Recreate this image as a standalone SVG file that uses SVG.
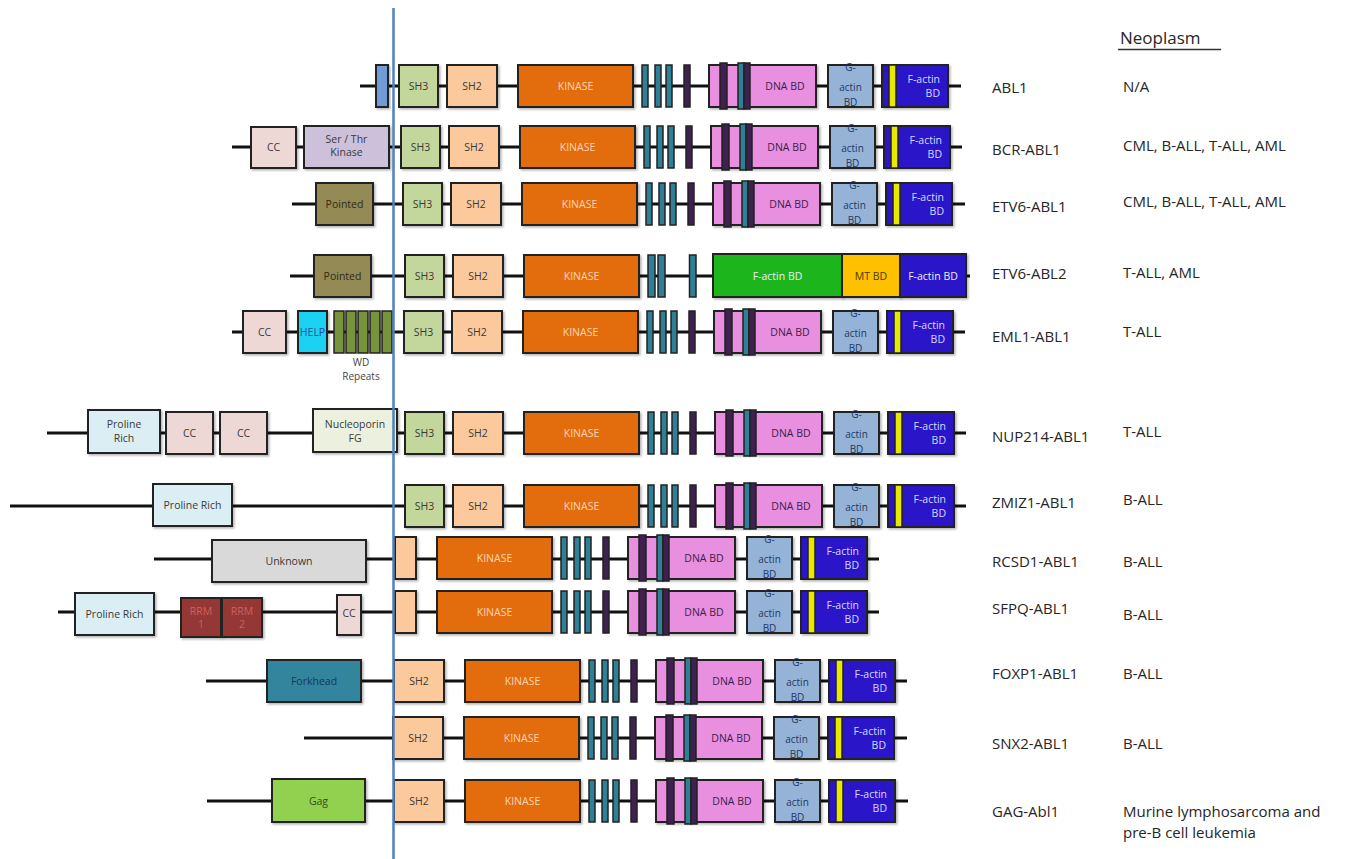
<svg xmlns="http://www.w3.org/2000/svg" width="1345" height="859" viewBox="0 0 1345 859">
<defs>
<filter id="sh" x="-10%" y="-10%" width="130%" height="130%"><feDropShadow dx="1.5" dy="1.5" stdDeviation="1" flood-color="#000" flood-opacity="0.3"/></filter>
</defs>
<style>
.bb{stroke:#111;stroke-width:3;fill:none}
.d{stroke:#222;stroke-width:2;filter:url(#sh)}
.b{stroke:#222;stroke-width:1.5}
.sh3{fill:#c3d69b}.sh2{fill:#fbc99b}.kin{fill:#e36c0a}.teal{fill:#2f7f97}.pur{fill:#3f2150}
.dna{fill:#e88fe0}.gact{fill:#95b3d7}.fact{fill:#2a17c8}.yel{fill:#e8e800}
.cc{fill:#eed8d6}.ser{fill:#ccc0da}.pointed{fill:#948a54}.help{fill:#1ad2f2}.wd{fill:#77933c}
.pro{fill:#dbeef4}.nup{fill:#ebf1de}.unk{fill:#d9d9d9}.rrm{fill:#953735}.fork{fill:#31859c}.gag{fill:#92d050}
.grn{fill:#1fb51f}.mt{fill:#ffc000}.abl{fill:#6f9bd4}
text{font-family:"Open Sans","Liberation Sans",sans-serif}
.t{font-size:10.5px;text-anchor:middle;fill:#3a3a3a}
.kt{fill:#fcd5b4}.dt{fill:#3c1d4a}.gt{fill:#1f3864;font-size:10px}.ft{fill:#d8d8ff;text-anchor:end}
.wt{fill:#eeeeff}.rt{fill:#cc6060}
.gene{font-size:15px;fill:#262626}
.neo{font-size:15px;fill:#262626}
</style>
<rect width="1345" height="859" fill="#fff"/>

<g id="connectors">
<line class="bb" x1="360" y1="86" x2="961" y2="86"/>
<line class="bb" x1="232" y1="147" x2="962" y2="147"/>
<line class="bb" x1="292" y1="204" x2="965" y2="204"/>
<line class="bb" x1="290" y1="276" x2="970" y2="276"/>
<line class="bb" x1="232" y1="332" x2="965" y2="332"/>
<line class="bb" x1="47" y1="433" x2="966" y2="433"/>
<line class="bb" x1="10" y1="506" x2="966" y2="506"/>
<line class="bb" x1="154" y1="559" x2="879" y2="559"/>
<line class="bb" x1="58" y1="612" x2="879" y2="612"/>
<line class="bb" x1="206" y1="681" x2="907" y2="681"/>
<line class="bb" x1="304" y1="738" x2="907" y2="738"/>
<line class="bb" x1="207" y1="801" x2="908" y2="801"/>
</g>

<!-- Row 1 ABL1 -->
<g id="abl1-n"><rect class="d abl" x="376" y="65" width="12" height="42"/></g>
<g id="abl1" transform="translate(518,86)">
<g id="abl1-sh3"><rect class="d sh3" x="-119" y="-21" width="39" height="42"/><text class="t" x="-99.5" y="4">SH3</text></g>
<g id="abl1-sh2"><rect class="d sh2" x="-71" y="-21" width="50" height="42"/><text class="t" x="-46" y="4">SH2</text></g>
<g id="abl1-kinase"><rect class="d kin" x="0" y="-21" width="115" height="42"/><text class="t kt" x="57.5" y="4">KINASE</text></g>
<g id="abl1-motifs"><rect class="b teal" x="124" y="-21" width="6" height="42"/><rect class="b teal" x="137" y="-21" width="6" height="42"/><rect class="b teal" x="148" y="-21" width="6" height="42"/><rect class="b pur" x="166" y="-21" width="6" height="42"/></g>
<g id="abl1-dna"><rect class="d dna" x="191" y="-21" width="107" height="42"/><rect class="b pur" x="202" y="-23" width="7" height="46"/><rect class="b teal" x="220" y="-23" width="6" height="46"/><rect class="b pur" x="226" y="-23" width="6" height="46"/><text class="t dt" x="267" y="4">DNA BD</text></g>
<g id="abl1-gactin"><rect class="d gact" x="310" y="-21" width="45" height="42"/><text class="t gt"><tspan x="332.5" y="-15">G-</tspan><tspan x="332.5" y="4.5">actin</tspan><tspan x="332.5" y="19.5">BD</tspan></text></g>
<g id="abl1-factin"><rect class="d fact" x="364" y="-21" width="66" height="42"/><rect class="b yel" x="371" y="-21" width="7" height="42"/><text class="t ft"><tspan x="422" y="-3">F-actin</tspan><tspan x="422" y="11">BD</tspan></text></g>
</g>

<!-- Row 2 BCR-ABL1 -->
<g id="bcr-cc"><rect class="d cc" x="251" y="127" width="45" height="41"/><text class="t" x="273.5" y="151">CC</text></g>
<g id="bcr-serthr"><rect class="d ser" x="304" y="126" width="85" height="42"/><text class="t"><tspan x="346.5" y="143">Ser / Thr</tspan><tspan x="346.5" y="156">Kinase</tspan></text></g>
<g id="bcr" transform="translate(520,147)">
<g id="bcr-sh3"><rect class="d sh3" x="-119" y="-21" width="39" height="42"/><text class="t" x="-99.5" y="4">SH3</text></g>
<g id="bcr-sh2"><rect class="d sh2" x="-71" y="-21" width="50" height="42"/><text class="t" x="-46" y="4">SH2</text></g>
<g id="bcr-kinase"><rect class="d kin" x="0" y="-21" width="115" height="42"/><text class="t kt" x="57.5" y="4">KINASE</text></g>
<g id="bcr-motifs"><rect class="b teal" x="124" y="-21" width="6" height="42"/><rect class="b teal" x="137" y="-21" width="6" height="42"/><rect class="b teal" x="148" y="-21" width="6" height="42"/><rect class="b pur" x="166" y="-21" width="6" height="42"/></g>
<g id="bcr-dna"><rect class="d dna" x="191" y="-21" width="107" height="42"/><rect class="b pur" x="202" y="-23" width="7" height="46"/><rect class="b teal" x="220" y="-23" width="6" height="46"/><rect class="b pur" x="226" y="-23" width="6" height="46"/><text class="t dt" x="267" y="4">DNA BD</text></g>
<g id="bcr-gactin"><rect class="d gact" x="310" y="-21" width="45" height="42"/><text class="t gt"><tspan x="332.5" y="-15">G-</tspan><tspan x="332.5" y="4.5">actin</tspan><tspan x="332.5" y="19.5">BD</tspan></text></g>
<g id="bcr-factin"><rect class="d fact" x="364" y="-21" width="66" height="42"/><rect class="b yel" x="371" y="-21" width="7" height="42"/><text class="t ft"><tspan x="422" y="-3">F-actin</tspan><tspan x="422" y="11">BD</tspan></text></g>
</g>

<!-- Row 3 ETV6-ABL1 -->
<g id="etv6a-pointed"><rect class="d pointed" x="316" y="183" width="57" height="42"/><text class="t" x="344.5" y="208" style="fill:#2e2a14">Pointed</text></g>
<g id="etv6a" transform="translate(522,204)">
<g id="etv6a-sh3"><rect class="d sh3" x="-119" y="-21" width="39" height="42"/><text class="t" x="-99.5" y="4">SH3</text></g>
<g id="etv6a-sh2"><rect class="d sh2" x="-71" y="-21" width="50" height="42"/><text class="t" x="-46" y="4">SH2</text></g>
<g id="etv6a-kinase"><rect class="d kin" x="0" y="-21" width="115" height="42"/><text class="t kt" x="57.5" y="4">KINASE</text></g>
<g id="etv6a-motifs"><rect class="b teal" x="124" y="-21" width="6" height="42"/><rect class="b teal" x="137" y="-21" width="6" height="42"/><rect class="b teal" x="148" y="-21" width="6" height="42"/><rect class="b pur" x="166" y="-21" width="6" height="42"/></g>
<g id="etv6a-dna"><rect class="d dna" x="191" y="-21" width="107" height="42"/><rect class="b pur" x="202" y="-23" width="7" height="46"/><rect class="b teal" x="220" y="-23" width="6" height="46"/><rect class="b pur" x="226" y="-23" width="6" height="46"/><text class="t dt" x="267" y="4">DNA BD</text></g>
<g id="etv6a-gactin"><rect class="d gact" x="310" y="-21" width="45" height="42"/><text class="t gt"><tspan x="332.5" y="-15">G-</tspan><tspan x="332.5" y="4.5">actin</tspan><tspan x="332.5" y="19.5">BD</tspan></text></g>
<g id="etv6a-factin"><rect class="d fact" x="364" y="-21" width="66" height="42"/><rect class="b yel" x="371" y="-21" width="7" height="42"/><text class="t ft"><tspan x="422" y="-3">F-actin</tspan><tspan x="422" y="11">BD</tspan></text></g>
</g>

<!-- Row 4 ETV6-ABL2 -->
<g id="etv6b-pointed"><rect class="d pointed" x="314" y="255" width="57" height="42"/><text class="t" x="342.5" y="280" style="fill:#2e2a14">Pointed</text></g>
<g id="etv6b" transform="translate(524,276)">
<g id="etv6b-sh3"><rect class="d sh3" x="-119" y="-21" width="39" height="42"/><text class="t" x="-99.5" y="4">SH3</text></g>
<g id="etv6b-sh2"><rect class="d sh2" x="-71" y="-21" width="50" height="42"/><text class="t" x="-46" y="4">SH2</text></g>
<g id="etv6b-kinase"><rect class="d kin" x="0" y="-21" width="115" height="42"/><text class="t kt" x="57.5" y="4">KINASE</text></g>
<g id="etv6b-motifs"><rect class="b teal" x="124" y="-21" width="7" height="42"/><rect class="b teal" x="134" y="-21" width="7" height="42"/><rect class="b teal" x="165.5" y="-21" width="6.5" height="42"/></g>
<g id="etv6b-factin1"><rect class="d grn" x="189" y="-22" width="129" height="43"/><text class="t wt" x="253.5" y="4">F-actin BD</text></g>
<g id="etv6b-mtbd"><rect class="d mt" x="318" y="-22" width="58" height="43"/><text class="t" x="347" y="4" style="fill:#4a3600">MT BD</text></g>
<g id="etv6b-factin2"><rect class="d fact" x="376" y="-22" width="66" height="43"/><text class="t wt" x="409" y="4">F-actin BD</text></g>
</g>

<!-- Row 5 EML1-ABL1 -->
<g id="eml1-cc"><rect class="d cc" x="243" y="311" width="43" height="42"/><text class="t" x="264.5" y="336">CC</text></g>
<g id="eml1-help"><rect class="d help" x="298" y="311" width="29" height="42"/><text class="t" x="312.5" y="336" style="fill:#1f4e9f">HELP</text></g>
<g id="eml1-wd"><rect class="b wd" x="334" y="311" width="10" height="42"/><rect class="b wd" x="346" y="311" width="10" height="42"/><rect class="b wd" x="358" y="311" width="10" height="42"/><rect class="b wd" x="370" y="311" width="10" height="42"/><rect class="b wd" x="382" y="311" width="10" height="42"/><text class="t" style="font-size:10px;fill:#444"><tspan x="361" y="366">WD</tspan><tspan x="361" y="380">Repeats</tspan></text></g>
<g id="eml1" transform="translate(523,332)">
<g id="eml1-sh3"><rect class="d sh3" x="-119" y="-21" width="39" height="42"/><text class="t" x="-99.5" y="4">SH3</text></g>
<g id="eml1-sh2"><rect class="d sh2" x="-71" y="-21" width="50" height="42"/><text class="t" x="-46" y="4">SH2</text></g>
<g id="eml1-kinase"><rect class="d kin" x="0" y="-21" width="115" height="42"/><text class="t kt" x="57.5" y="4">KINASE</text></g>
<g id="eml1-motifs"><rect class="b teal" x="124" y="-21" width="6" height="42"/><rect class="b teal" x="137" y="-21" width="6" height="42"/><rect class="b teal" x="148" y="-21" width="6" height="42"/><rect class="b pur" x="166" y="-21" width="6" height="42"/></g>
<g id="eml1-dna"><rect class="d dna" x="191" y="-21" width="107" height="42"/><rect class="b pur" x="202" y="-23" width="7" height="46"/><rect class="b teal" x="220" y="-23" width="6" height="46"/><rect class="b pur" x="226" y="-23" width="6" height="46"/><text class="t dt" x="267" y="4">DNA BD</text></g>
<g id="eml1-gactin"><rect class="d gact" x="310" y="-21" width="45" height="42"/><text class="t gt"><tspan x="332.5" y="-15">G-</tspan><tspan x="332.5" y="4.5">actin</tspan><tspan x="332.5" y="19.5">BD</tspan></text></g>
<g id="eml1-factin"><rect class="d fact" x="364" y="-21" width="66" height="42"/><rect class="b yel" x="371" y="-21" width="7" height="42"/><text class="t ft"><tspan x="422" y="-3">F-actin</tspan><tspan x="422" y="11">BD</tspan></text></g>
</g>

<!-- Row 6 NUP214-ABL1 -->
<g id="nup-pro"><rect class="d pro" x="88" y="410" width="72" height="43"/><text class="t"><tspan x="124" y="428">Proline</tspan><tspan x="124" y="442">Rich</tspan></text></g>
<g id="nup-cc1"><rect class="d cc" x="166" y="412" width="47" height="42"/><text class="t" x="189.5" y="437">CC</text></g>
<g id="nup-cc2"><rect class="d cc" x="220" y="412" width="47" height="42"/><text class="t" x="243.5" y="437">CC</text></g>
<g id="nup-fg"><rect class="d nup" x="313" y="409" width="84" height="43"/><text class="t"><tspan x="355" y="428">Nucleoporin</tspan><tspan x="355" y="442">FG</tspan></text></g>
<g id="nup214" transform="translate(524,433)">
<g id="nup214-sh3"><rect class="d sh3" x="-119" y="-21" width="39" height="42"/><text class="t" x="-99.5" y="4">SH3</text></g>
<g id="nup214-sh2"><rect class="d sh2" x="-71" y="-21" width="50" height="42"/><text class="t" x="-46" y="4">SH2</text></g>
<g id="nup214-kinase"><rect class="d kin" x="0" y="-21" width="115" height="42"/><text class="t kt" x="57.5" y="4">KINASE</text></g>
<g id="nup214-motifs"><rect class="b teal" x="124" y="-21" width="6" height="42"/><rect class="b teal" x="137" y="-21" width="6" height="42"/><rect class="b teal" x="148" y="-21" width="6" height="42"/><rect class="b pur" x="166" y="-21" width="6" height="42"/></g>
<g id="nup214-dna"><rect class="d dna" x="191" y="-21" width="107" height="42"/><rect class="b pur" x="202" y="-23" width="7" height="46"/><rect class="b teal" x="220" y="-23" width="6" height="46"/><rect class="b pur" x="226" y="-23" width="6" height="46"/><text class="t dt" x="267" y="4">DNA BD</text></g>
<g id="nup214-gactin"><rect class="d gact" x="310" y="-21" width="45" height="42"/><text class="t gt"><tspan x="332.5" y="-15">G-</tspan><tspan x="332.5" y="4.5">actin</tspan><tspan x="332.5" y="19.5">BD</tspan></text></g>
<g id="nup214-factin"><rect class="d fact" x="364" y="-21" width="66" height="42"/><rect class="b yel" x="371" y="-21" width="7" height="42"/><text class="t ft"><tspan x="422" y="-3">F-actin</tspan><tspan x="422" y="11">BD</tspan></text></g>
</g>

<!-- Row 7 ZMIZ1-ABL1 -->
<g id="zmiz-pro"><rect class="d pro" x="153" y="484" width="79" height="42"/><text class="t" x="192.5" y="509">Proline Rich</text></g>
<g id="zmiz1" transform="translate(524,506)">
<g id="zmiz1-sh3"><rect class="d sh3" x="-119" y="-21" width="39" height="42"/><text class="t" x="-99.5" y="4">SH3</text></g>
<g id="zmiz1-sh2"><rect class="d sh2" x="-71" y="-21" width="50" height="42"/><text class="t" x="-46" y="4">SH2</text></g>
<g id="zmiz1-kinase"><rect class="d kin" x="0" y="-21" width="115" height="42"/><text class="t kt" x="57.5" y="4">KINASE</text></g>
<g id="zmiz1-motifs"><rect class="b teal" x="124" y="-21" width="6" height="42"/><rect class="b teal" x="137" y="-21" width="6" height="42"/><rect class="b teal" x="148" y="-21" width="6" height="42"/><rect class="b pur" x="166" y="-21" width="6" height="42"/></g>
<g id="zmiz1-dna"><rect class="d dna" x="191" y="-21" width="107" height="42"/><rect class="b pur" x="202" y="-23" width="7" height="46"/><rect class="b teal" x="220" y="-23" width="6" height="46"/><rect class="b pur" x="226" y="-23" width="6" height="46"/><text class="t dt" x="267" y="4">DNA BD</text></g>
<g id="zmiz1-gactin"><rect class="d gact" x="310" y="-21" width="45" height="42"/><text class="t gt"><tspan x="332.5" y="-15">G-</tspan><tspan x="332.5" y="4.5">actin</tspan><tspan x="332.5" y="19.5">BD</tspan></text></g>
<g id="zmiz1-factin"><rect class="d fact" x="364" y="-21" width="66" height="42"/><rect class="b yel" x="371" y="-21" width="7" height="42"/><text class="t ft"><tspan x="422" y="-3">F-actin</tspan><tspan x="422" y="11">BD</tspan></text></g>
</g>

<!-- Row 8 RCSD1-ABL1 -->
<g id="rcsd-unk"><rect class="d unk" x="212" y="540" width="154" height="42"/><text class="t" x="289" y="565">Unknown</text></g>
<g id="rcsd1" transform="translate(437,558)">
<g id="rcsd1-sh2"><rect class="d sh2" x="-42" y="-21" width="21" height="42"/></g>
<g id="rcsd1-kinase"><rect class="d kin" x="0" y="-21" width="115" height="42"/><text class="t kt" x="57.5" y="4">KINASE</text></g>
<g id="rcsd1-motifs"><rect class="b teal" x="124" y="-21" width="6" height="42"/><rect class="b teal" x="137" y="-21" width="6" height="42"/><rect class="b teal" x="148" y="-21" width="6" height="42"/><rect class="b pur" x="166" y="-21" width="6" height="42"/></g>
<g id="rcsd1-dna"><rect class="d dna" x="191" y="-21" width="107" height="42"/><rect class="b pur" x="202" y="-23" width="7" height="46"/><rect class="b teal" x="220" y="-23" width="6" height="46"/><rect class="b pur" x="226" y="-23" width="6" height="46"/><text class="t dt" x="267" y="4">DNA BD</text></g>
<g id="rcsd1-gactin"><rect class="d gact" x="310" y="-21" width="45" height="42"/><text class="t gt"><tspan x="332.5" y="-15">G-</tspan><tspan x="332.5" y="4.5">actin</tspan><tspan x="332.5" y="19.5">BD</tspan></text></g>
<g id="rcsd1-factin"><rect class="d fact" x="364" y="-21" width="66" height="42"/><rect class="b yel" x="371" y="-21" width="7" height="42"/><text class="t ft"><tspan x="422" y="-3">F-actin</tspan><tspan x="422" y="11">BD</tspan></text></g>
</g>

<!-- Row 9 SFPQ-ABL1 -->
<g id="sfpq-pro"><rect class="d pro" x="75" y="593" width="79" height="42"/><text class="t" x="114.5" y="618">Proline Rich</text></g>
<g id="sfpq-rrm1"><rect class="d rrm" x="181" y="598" width="40" height="39"/><text class="t rt"><tspan x="201" y="615">RRM</tspan><tspan x="201" y="628">1</tspan></text></g>
<g id="sfpq-rrm2"><rect class="d rrm" x="222" y="598" width="40" height="39"/><text class="t rt"><tspan x="242" y="615">RRM</tspan><tspan x="242" y="628">2</tspan></text></g>
<g id="sfpq-cc"><rect class="d cc" x="337" y="595" width="24" height="40"/><text class="t" x="349" y="617">CC</text></g>
<g id="sfpq" transform="translate(437,612)">
<g id="sfpq-sh2"><rect class="d sh2" x="-42" y="-21" width="21" height="42"/></g>
<g id="sfpq-kinase"><rect class="d kin" x="0" y="-21" width="115" height="42"/><text class="t kt" x="57.5" y="4">KINASE</text></g>
<g id="sfpq-motifs"><rect class="b teal" x="124" y="-21" width="6" height="42"/><rect class="b teal" x="137" y="-21" width="6" height="42"/><rect class="b teal" x="148" y="-21" width="6" height="42"/><rect class="b pur" x="166" y="-21" width="6" height="42"/></g>
<g id="sfpq-dna"><rect class="d dna" x="191" y="-21" width="107" height="42"/><rect class="b pur" x="202" y="-23" width="7" height="46"/><rect class="b teal" x="220" y="-23" width="6" height="46"/><rect class="b pur" x="226" y="-23" width="6" height="46"/><text class="t dt" x="267" y="4">DNA BD</text></g>
<g id="sfpq-gactin"><rect class="d gact" x="310" y="-21" width="45" height="42"/><text class="t gt"><tspan x="332.5" y="-15">G-</tspan><tspan x="332.5" y="4.5">actin</tspan><tspan x="332.5" y="19.5">BD</tspan></text></g>
<g id="sfpq-factin"><rect class="d fact" x="364" y="-21" width="66" height="42"/><rect class="b yel" x="371" y="-21" width="7" height="42"/><text class="t ft"><tspan x="422" y="-3">F-actin</tspan><tspan x="422" y="11">BD</tspan></text></g>
</g>

<!-- Row 10 FOXP1-ABL1 -->
<g id="foxp1-fork"><rect class="d fork" x="267" y="660" width="94" height="42"/><text class="t" x="314" y="685" style="fill:#17375e">Forkhead</text></g>
<g id="foxp1" transform="translate(465,681)">
<g id="foxp1-sh2"><rect class="d sh2" x="-71" y="-21" width="50" height="42"/><text class="t" x="-46" y="4">SH2</text></g>
<g id="foxp1-kinase"><rect class="d kin" x="0" y="-21" width="115" height="42"/><text class="t kt" x="57.5" y="4">KINASE</text></g>
<g id="foxp1-motifs"><rect class="b teal" x="124" y="-21" width="6" height="42"/><rect class="b teal" x="137" y="-21" width="6" height="42"/><rect class="b teal" x="148" y="-21" width="6" height="42"/><rect class="b pur" x="166" y="-21" width="6" height="42"/></g>
<g id="foxp1-dna"><rect class="d dna" x="191" y="-21" width="107" height="42"/><rect class="b pur" x="202" y="-23" width="7" height="46"/><rect class="b teal" x="220" y="-23" width="6" height="46"/><rect class="b pur" x="226" y="-23" width="6" height="46"/><text class="t dt" x="267" y="4">DNA BD</text></g>
<g id="foxp1-gactin"><rect class="d gact" x="310" y="-21" width="45" height="42"/><text class="t gt"><tspan x="332.5" y="-15">G-</tspan><tspan x="332.5" y="4.5">actin</tspan><tspan x="332.5" y="19.5">BD</tspan></text></g>
<g id="foxp1-factin"><rect class="d fact" x="364" y="-21" width="66" height="42"/><rect class="b yel" x="371" y="-21" width="7" height="42"/><text class="t ft"><tspan x="422" y="-3">F-actin</tspan><tspan x="422" y="11">BD</tspan></text></g>
</g>

<!-- Row 11 SNX2-ABL1 -->
<g id="snx2" transform="translate(464,738)">
<g id="snx2-sh2"><rect class="d sh2" x="-71" y="-21" width="50" height="42"/><text class="t" x="-46" y="4">SH2</text></g>
<g id="snx2-kinase"><rect class="d kin" x="0" y="-21" width="115" height="42"/><text class="t kt" x="57.5" y="4">KINASE</text></g>
<g id="snx2-motifs"><rect class="b teal" x="124" y="-21" width="6" height="42"/><rect class="b teal" x="137" y="-21" width="6" height="42"/><rect class="b teal" x="148" y="-21" width="6" height="42"/><rect class="b pur" x="166" y="-21" width="6" height="42"/></g>
<g id="snx2-dna"><rect class="d dna" x="191" y="-21" width="107" height="42"/><rect class="b pur" x="202" y="-23" width="7" height="46"/><rect class="b teal" x="220" y="-23" width="6" height="46"/><rect class="b pur" x="226" y="-23" width="6" height="46"/><text class="t dt" x="267" y="4">DNA BD</text></g>
<g id="snx2-gactin"><rect class="d gact" x="310" y="-21" width="45" height="42"/><text class="t gt"><tspan x="332.5" y="-15">G-</tspan><tspan x="332.5" y="4.5">actin</tspan><tspan x="332.5" y="19.5">BD</tspan></text></g>
<g id="snx2-factin"><rect class="d fact" x="364" y="-21" width="66" height="42"/><rect class="b yel" x="371" y="-21" width="7" height="42"/><text class="t ft"><tspan x="422" y="-3">F-actin</tspan><tspan x="422" y="11">BD</tspan></text></g>
</g>

<!-- Row 12 GAG-Abl1 -->
<g id="gag-gag"><rect class="d gag" x="272" y="779" width="93" height="43"/><text class="t" x="318.5" y="805" style="fill:#2f4f1a">Gag</text></g>
<g id="gag" transform="translate(465,801)">
<g id="gag-sh2"><rect class="d sh2" x="-71" y="-21" width="50" height="42"/><text class="t" x="-46" y="4">SH2</text></g>
<g id="gag-kinase"><rect class="d kin" x="0" y="-21" width="115" height="42"/><text class="t kt" x="57.5" y="4">KINASE</text></g>
<g id="gag-motifs"><rect class="b teal" x="124" y="-21" width="6" height="42"/><rect class="b teal" x="137" y="-21" width="6" height="42"/><rect class="b teal" x="148" y="-21" width="6" height="42"/><rect class="b pur" x="166" y="-21" width="6" height="42"/></g>
<g id="gag-dna"><rect class="d dna" x="191" y="-21" width="107" height="42"/><rect class="b pur" x="202" y="-23" width="7" height="46"/><rect class="b teal" x="220" y="-23" width="6" height="46"/><rect class="b pur" x="226" y="-23" width="6" height="46"/><text class="t dt" x="267" y="4">DNA BD</text></g>
<g id="gag-gactin"><rect class="d gact" x="310" y="-21" width="45" height="42"/><text class="t gt"><tspan x="332.5" y="-15">G-</tspan><tspan x="332.5" y="4.5">actin</tspan><tspan x="332.5" y="19.5">BD</tspan></text></g>
<g id="gag-factin"><rect class="d fact" x="364" y="-21" width="66" height="42"/><rect class="b yel" x="371" y="-21" width="7" height="42"/><text class="t ft"><tspan x="422" y="-3">F-actin</tspan><tspan x="422" y="11">BD</tspan></text></g>
</g>

<!-- breakpoint line -->
<line x1="393.5" y1="8" x2="393.5" y2="859" stroke="#4f81bd" stroke-width="2.5"/>

<!-- labels -->
<g id="gene-labels">
<text class="gene" x="992" y="93">ABL1</text>
<text class="gene" x="992" y="155">BCR-ABL1</text>
<text class="gene" x="992" y="212">ETV6-ABL1</text>
<text class="gene" x="992" y="279">ETV6-ABL2</text>
<text class="gene" x="992" y="342">EML1-ABL1</text>
<text class="gene" x="992" y="442">NUP214-ABL1</text>
<text class="gene" x="992" y="508">ZMIZ1-ABL1</text>
<text class="gene" x="992" y="567">RCSD1-ABL1</text>
<text class="gene" x="992" y="614">SFPQ-ABL1</text>
<text class="gene" x="992" y="679">FOXP1-ABL1</text>
<text class="gene" x="992" y="749">SNX2-ABL1</text>
<text class="gene" x="992" y="817">GAG-Abl1</text>
</g>
<g id="neoplasm">
<text x="1120" y="44" style="font-size:17px;fill:#262626">Neoplasm</text>
<line x1="1118" y1="49.5" x2="1221" y2="49.5" stroke="#333" stroke-width="1.3"/>
<text class="neo" x="1123" y="92">N/A</text>
<text class="neo" x="1123" y="151">CML, B-ALL, T-ALL, AML</text>
<text class="neo" x="1123" y="207">CML, B-ALL, T-ALL, AML</text>
<text class="neo" x="1123" y="278">T-ALL, AML</text>
<text class="neo" x="1123" y="337">T-ALL</text>
<text class="neo" x="1123" y="437">T-ALL</text>
<text class="neo" x="1123" y="505">B-ALL</text>
<text class="neo" x="1123" y="567">B-ALL</text>
<text class="neo" x="1123" y="620">B-ALL</text>
<text class="neo" x="1123" y="679">B-ALL</text>
<text class="neo" x="1123" y="749">B-ALL</text>
<text class="neo" x="1123" y="817">Murine lymphosarcoma and</text>
<text class="neo" x="1123" y="838">pre-B cell leukemia</text>
</g>
</svg>
